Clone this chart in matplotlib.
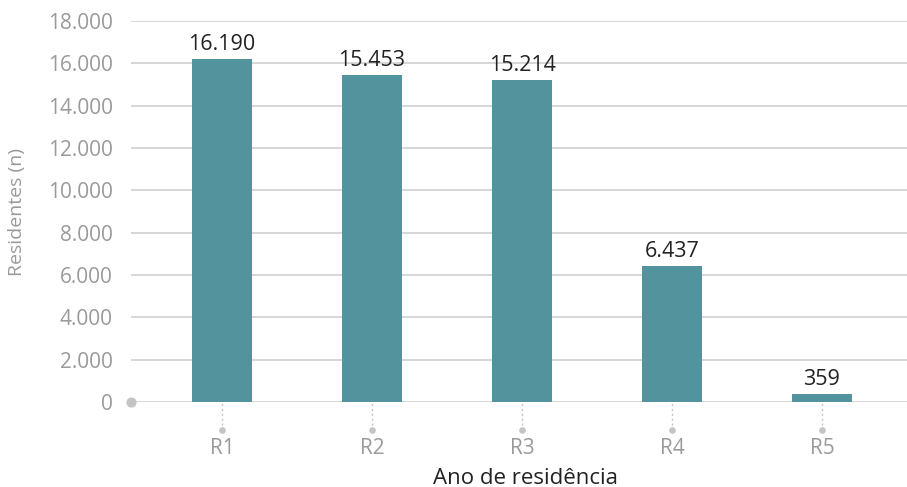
import matplotlib.pyplot as plt
from matplotlib.ticker import FuncFormatter

categories = ["R1", "R2", "R3", "R4", "R5"]
residents = [16190, 15453, 15214, 6437, 359]
y_ticks = [0, 2000, 4000, 6000, 8000, 10000, 12000, 14000, 16000, 18000]

BAR = "#53939e"
GRID = "#cfcfcf"
GREY_TXT = "#9a9a9a"
DARK_TXT = "#222222"

plt.rcParams['font.family'] = ['Open Sans', 'DejaVu Sans']

def thousands(v, pos=None):
    return f"{int(v):,}".replace(",", ".")

fig = plt.figure(figsize=(9.07, 4.87), dpi=100)
ax = fig.add_axes([131 / 907, 1 - 402 / 487, 1 - 131 / 907, (402 - 21) / 487])

x = list(range(len(categories)))
ax.bar(x, residents, width=0.4, color=BAR, zorder=3)

# value labels above bars
for xi, v in zip(x, residents):
    ax.annotate(thousands(v), (xi, v), xytext=(0, 3), textcoords="offset points",
                ha="center", va="bottom", fontsize=15.5, color=DARK_TXT)

ax.set_xlim(-0.607, 4.567)
ax.set_ylim(0, 18000)
ax.set_yticks(y_ticks)
ax.yaxis.set_major_formatter(FuncFormatter(thousands))
ax.grid(axis="y", color=GRID, linewidth=1.2, zorder=0)
for s in ax.spines.values():
    s.set_visible(False)
ax.tick_params(axis="y", length=0, pad=13, labelsize=15, labelcolor=GREY_TXT)

# category ticks: dotted line with a dot at the end
ax.set_xticks(x)
ax.set_xticklabels(categories)
ax.tick_params(axis="x", length=0, pad=26, labelsize=15, labelcolor=GREY_TXT)
tr = ax.get_xaxis_transform()
ax.vlines(x, -28 / 381, 0, transform=tr, colors="#c4c4c4", linestyles=(0, (1.5, 2)),
          linewidth=1, clip_on=False)
ax.scatter(x, [-28 / 381] * len(x), transform=tr, s=14, color="#c4c4c4", clip_on=False, zorder=4)
ax.scatter([0], [0], transform=ax.transAxes, s=40, color="#c4c4c4", clip_on=False, zorder=4)

ax.set_xlabel("Ano de residência", fontsize=16, color=DARK_TXT, va="center")
ax.xaxis.set_label_coords(0.508, -76 / 381)
ax.set_ylabel("Residentes (n)", fontsize=14, color=GREY_TXT, va="center")
ax.yaxis.set_label_coords(-114 / 776, 0.5)

fig.savefig("out.png", dpi=100)
